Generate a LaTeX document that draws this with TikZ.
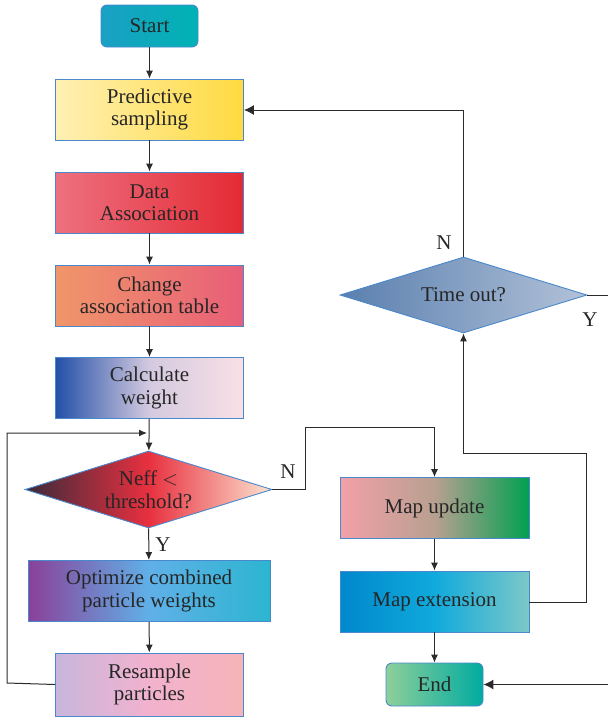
\documentclass[tikz,border=0pt]{standalone}
\usepackage{fontspec}
\setmainfont{Liberation Serif}
\usetikzlibrary{shapes.geometric,arrows.meta}
\definecolor{bord}{HTML}{4A88CC}
\definecolor{ln}{HTML}{2B2B2B}
\definecolor{stL}{HTML}{1AA0C4}\definecolor{stR}{HTML}{00B2B4}
\definecolor{prL}{HTML}{FFF0B4}\definecolor{prR}{HTML}{FFDA40}
\definecolor{daL}{HTML}{EE7080}\definecolor{daR}{HTML}{E42A33}
\definecolor{chL}{HTML}{F0966A}\definecolor{chR}{HTML}{E85E78}
\definecolor{caL}{HTML}{2350A8}\definecolor{caM}{HTML}{D4CAE0}\definecolor{caR}{HTML}{F9E0E6}
\definecolor{neL}{HTML}{3A2A3A}\definecolor{neM}{HTML}{E8303F}\definecolor{neR}{HTML}{FCE4D0}
\definecolor{opL}{HTML}{8A4099}\definecolor{opM}{HTML}{60B0E8}\definecolor{opR}{HTML}{2CB5D0}
\definecolor{reL}{HTML}{C8B6DC}\definecolor{reM}{HTML}{F2B2CE}\definecolor{reR}{HTML}{F6B4B8}
\definecolor{muL}{HTML}{F3A0A8}\definecolor{muM}{HTML}{B8A090}\definecolor{muR}{HTML}{00A050}
\definecolor{meL}{HTML}{0088CC}\definecolor{meM}{HTML}{10AADC}\definecolor{meR}{HTML}{7CC8C8}
\definecolor{enL}{HTML}{8ECF9A}\definecolor{enR}{HTML}{00ABA0}
\definecolor{toL}{HTML}{5A7FAF}\definecolor{toR}{HTML}{B2C2D8}
\tikzset{
  box/.style={draw=bord, line width=0.9pt, minimum width=188pt, minimum height=61pt, inner sep=0pt, align=center, font=\fontsize{21}{22.5}\selectfont, text=black!85},
  term/.style={box, rounded corners=6pt, minimum width=97pt, minimum height=42pt},
  dec/.style={draw=bord, line width=0.9pt, shape=diamond, aspect=3.2, minimum width=247pt, minimum height=77pt, inner sep=0pt, align=center, font=\fontsize{21}{22.5}\selectfont, text=black!85},
  conn/.style={draw=ln, line width=1pt},
  arr/.style={conn, -{Latex[length=8pt,width=7pt]}},
  bigarr/.style={conn, -{Latex[length=10pt,width=10pt]}},
  lbl/.style={font=\fontsize{21}{22.5}\selectfont, text=black!85, inner sep=0pt}
}
\begin{document}
\begin{tikzpicture}[x=1pt,y=-1pt]
\useasboundingbox (0,0) rectangle (608,718);
% left column
\node[term, left color=stL, right color=stR] (start) at (149.5,26) {Start};
\node[box, left color=prL, right color=prR] (pred) at (149.5,109.5) {Predictive\\sampling};
\node[box, left color=daL, right color=daR] (data) at (149.5,202.5) {Data\\Association};
\node[box, left color=chL, right color=chR] (chg) at (149.5,295.5) {Change\\association table};
\node[box, left color=caL, right color=caR, middle color=caM] (calc) at (149.5,388) {Calculate\\weight};
\node[dec, left color=neL, right color=neR, middle color=neM] (neff) at (148.5,489.5) {Neff $<$\\threshold?};
\node[box, minimum width=242pt, left color=opL, right color=opR, middle color=opM] (opt) at (149,591) {Optimize combined\\particle weights};
\node[box, minimum height=63pt, left color=reL, right color=reR, middle color=reM] (res) at (149.5,684.5) {Resample\\particles};
% right column
\node[dec, minimum height=76pt, left color=toL, right color=toR] (tout) at (463.5,295) {Time out?};
\node[box, minimum width=189pt, left color=muL, right color=muR, middle color=muM] (mup) at (434.5,508) {Map update};
\node[box, minimum width=189pt, left color=meL, right color=meR, middle color=meM] (mext) at (434.5,601.5) {Map extension};
\node[term, minimum height=43pt, left color=enL, right color=enR] (end) at (434.5,684.5) {End};
% coordinates
\coordinate (loopL1) at (7,683);
\coordinate (loopL2) at (7,433);
\coordinate (loopIn) at (147,433);
\coordinate (nA) at (305,489.5);
\coordinate (nB) at (305,427);
\coordinate (nC) at (434.5,427);
\coordinate (xA) at (586,602);
\coordinate (xB) at (586,453);
\coordinate (xC) at (463.5,453);
\coordinate (tA) at (463.5,110);
\coordinate (tY) at (608,295);
\coordinate (eIn) at (608,684.5);
% connectors
\draw[arr] (start) -- (pred);
\draw[arr] (pred) -- (data);
\draw[arr] (data) -- (chg);
\draw[arr] (chg) -- (calc);
\draw[arr] (calc) -- (neff);
\draw[arr] (neff) -- (opt);
\draw[arr] (opt) -- (res);
\draw[arr] (res.west) -- (loopL1) -- (loopL2) -- (loopIn);
\draw[arr] (neff.east) -- (nA) -- (nB) -- (nC) -- (mup.north);
\draw[arr] (mup) -- (mext);
\draw[arr] (mext) -- (end);
\draw[arr] (mext.east |- xA) -- (xA) -- (xB) -- (xC) -- (tout.south);
\draw[bigarr] (tout.north) -- (tA) -- (pred.east |- tA);
\draw[conn] (tout.east) -- (tY);
\draw[bigarr] (eIn) -- (end.east);
% labels
\node[lbl] (lN1) at (288,472) {N};
\node[lbl] (lY1) at (163,545) {Y};
\node[lbl] (lN2) at (444,243) {N};
\node[lbl] (lY2) at (590,320) {Y};
\end{tikzpicture}
\end{document}
